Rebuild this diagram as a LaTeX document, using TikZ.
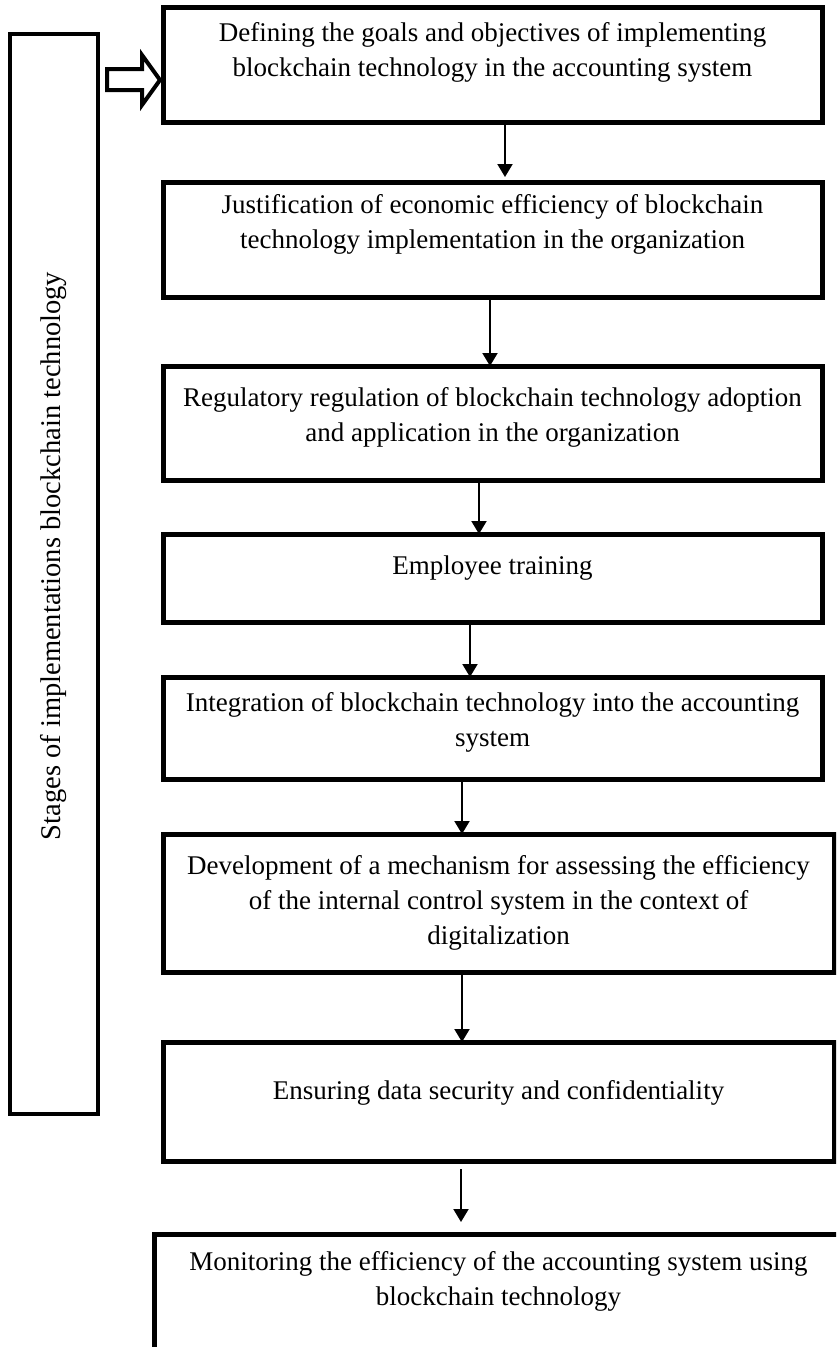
\documentclass[tikz,border=0pt]{standalone}
\usepackage{fontspec}
\setmainfont{Liberation Serif}
\usetikzlibrary{arrows.meta, positioning}

\begin{document}
\begin{tikzpicture}[
  x=1pt, y=-1pt,
  font=\fontsize{27}{35}\selectfont,
  stagebox/.style={draw, line width=5pt, outer sep=0pt, minimum width=659pt, anchor=north west},
  stagetext/.style={align=center, inner sep=0pt},
  sidebox/.style={draw, line width=4pt, outer sep=0pt},
  arr/.style={-{Triangle[length=13pt, width=15pt]}, line width=2pt},
  bigarr/.style={draw, line width=4pt, line join=miter, fill=white}
]
  \useasboundingbox (0,0) rectangle (836,1347);
  \clip (0,0) rectangle (836,1347);

  % frames of the stages
  \node[stagebox, minimum height=115pt] (b1) at (163,7) {};
  \node[stagebox, minimum height=115pt, below=60pt of b1.south west, anchor=north west] (b2) {};
  \node[stagebox, minimum height=114pt, below=69pt of b2.south west, anchor=north west] (b3) {};
  \node[stagebox, minimum height=88pt, below=54pt of b3.south west, anchor=north west] (b4) {};
  \node[stagebox, minimum height=102pt, below=55pt of b4.south west, anchor=north west] (b5) {};
  \node[stagebox, minimum height=138pt, minimum width=671pt, below=55pt of b5.south west, anchor=north west] (b6) {};
  \node[stagebox, minimum height=119pt, minimum width=671pt, below=70pt of b6.south west, anchor=north west] (b7) {};
  \node[stagebox, minimum height=200pt, minimum width=720pt, below=73pt of b7.south west, xshift=-9pt, anchor=north west] (b8) {};

  % texts of the stages
  \node[stagetext] (t1) at ([yshift=12pt]b1.center)
    {Defining the goals and objectives of implementing\\blockchain technology in the accounting system};
  \node[stagetext] (t2) at ([yshift=15pt]b2.center)
    {Justification of economic efficiency of blockchain\\technology implementation in the organization};
  \node[stagetext] (t3) at ([yshift=6pt]b3.center)
    {Regulatory regulation of blockchain technology adoption\\and application in the organization};
  \node[stagetext] (t4) at ([yshift=10pt]b4.center) {Employee training};
  \node[stagetext] (t5) at ([yshift=6pt]b5.center)
    {Integration of blockchain technology into the accounting\\system};
  \node[stagetext] (t6) at (b6.center)
    {Development of a mechanism for assessing the efficiency\\of the internal control system in the context of\\digitalization};
  \node[stagetext] (t7) at ([yshift=9pt]b7.center) {Ensuring data security and confidentiality};
  \node[stagetext] (t8) at ([yshift=-47pt]b8.north -| b7.center)
    {Monitoring the efficiency of the accounting system using\\blockchain technology};

  \foreach \a/\b/\dx/\s/\e in {b1/b2/12.5/2/5, b2/b3/-2.5/0/0, b3/b4/-13.5/0/0, b4/b5/-22.5/0/0,
                               b5/b6/-30.5/0/0, b6/b7/-36.5/0/0, b7/b8/-37.5/8/12}
    \draw[arr, shorten <=\s pt, shorten >=\e pt] ([xshift=\dx pt]\a.south) -- ([xshift=\dx pt]\a.south |- \b.north);

  % side box and the hollow arrow
  \node[sidebox, minimum width=88pt, minimum height=1080pt] (side) at (54,574) {};
  \node[stagetext, rotate=90, font=\fontsize{28.5}{35}\selectfont] (sidetext) at ([yshift=18pt]side.center)
    {Stages of implementations blockchain technology};
  \coordinate (tip) at ([xshift=-3pt, yshift=-15.5pt]b1.west);
  \draw[bigarr] (tip) -- ++(-18,25) -- ++(0,-15) -- ++(-35,0) -- ++(0,-21) -- ++(35,0) -- ++(0,-14) -- cycle;
\end{tikzpicture}
\end{document}
